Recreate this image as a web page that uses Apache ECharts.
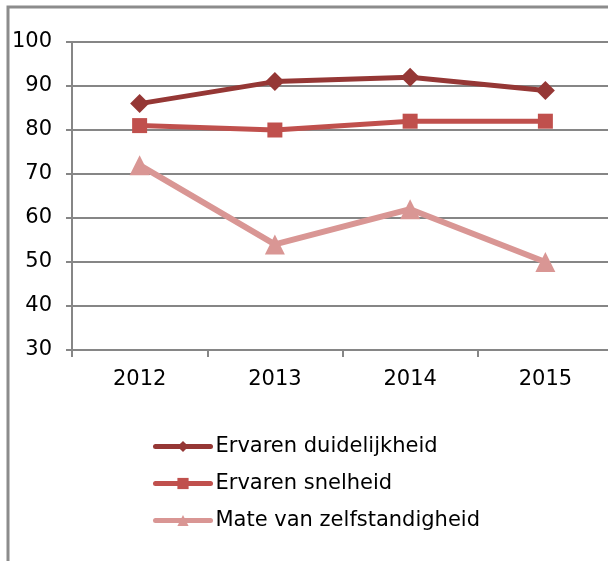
<!DOCTYPE html>
<html>
<head>
<meta charset="utf-8">
<script src="https://cdn.jsdelivr.net/npm/echarts@6/dist/echarts.min.js"></script>
<style>
html,body{margin:0;padding:0;background:#fff;}
#c{width:608px;height:561px;}
</style>
</head>
<body>
<div id="c"></div>
<script>
var categories = ['2012', '2013', '2014', '2015'];
var duidelijkheid = [86, 91, 92, 89];
var snelheid = [81, 80, 82, 82];
var zelfstandigheid = [72, 54, 62, 50];
var seriesNames = ['Ervaren duidelijkheid', 'Ervaren snelheid', 'Mate van zelfstandigheid'];

var font = 'DejaVu Sans, Verdana, sans-serif';
var chart = echarts.init(document.getElementById('c'), null, {renderer: 'canvas'});
chart.setOption({
  backgroundColor: '#fff',
  animation: false,
  graphic: [{
    type: 'rect',
    shape: {x: 8, y: 7, width: 800, height: 800},
    style: {fill: 'none', stroke: '#8c8c8c', lineWidth: 3},
    z: 100
  }],
  grid: {left: 72, top: 42, width: 541, height: 308, outerBoundsMode: 'none', containLabel: false},
  xAxis: {
    type: 'category',
    data: categories,
    boundaryGap: true,
    axisLine: {lineStyle: {color: '#868686', width: 2}},
    axisTick: {show: true, length: 7, lineStyle: {color: '#868686', width: 2}},
    axisLabel: {color: '#000', fontSize: 21, fontFamily: font, margin: 19}
  },
  yAxis: {
    type: 'value',
    min: 30, max: 100, interval: 10,
    axisLine: {show: true, lineStyle: {color: '#868686', width: 2}},
    axisTick: {show: true, length: 6, lineStyle: {color: '#868686', width: 2}},
    axisLabel: {color: '#000', fontSize: 21, fontFamily: font, margin: 20},
    splitLine: {show: true, lineStyle: {color: '#868686', width: 2}}
  },
  legend: {
    orient: 'vertical',
    left: 148, top: 431,
    itemWidth: 55, itemHeight: 14, itemGap: 16,
    lineStyle: {width: 5, cap: 'round'},
    textStyle: {color: '#000', fontSize: 21, fontFamily: font},
    data: seriesNames
  },
  series: [
    {
      name: seriesNames[0], type: 'line', data: duidelijkheid,
      symbol: 'diamond', symbolSize: 19,
      lineStyle: {color: '#953735', width: 5},
      itemStyle: {color: '#953735'}
    },
    {
      name: seriesNames[1], type: 'line', data: snelheid,
      symbol: 'rect', symbolSize: 15,
      lineStyle: {color: '#C0504D', width: 5},
      itemStyle: {color: '#C0504D'}
    },
    {
      name: seriesNames[2], type: 'line', data: zelfstandigheid,
      symbol: 'triangle', symbolSize: 20,
      lineStyle: {color: '#D99694', width: 6},
      itemStyle: {color: '#D99694'}
    }
  ]
});
</script>
</body>
</html>
